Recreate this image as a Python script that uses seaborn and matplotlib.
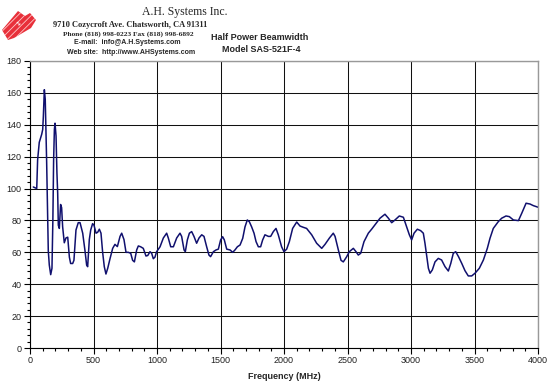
import matplotlib
matplotlib.use("Agg")
import matplotlib.pyplot as plt
import matplotlib.patches as mpatches
import seaborn as sns
import pandas as pd
import numpy as np
from matplotlib.ticker import MultipleLocator

freq_mhz = [26, 53, 60, 73, 92, 100, 105, 113, 120, 131, 139, 144, 152, 163, 173, 180, 186, 192, 197,
            205, 212, 218, 223, 231, 241, 249, 257, 270, 283, 297, 310, 320, 336, 346, 362, 380, 394,
            415, 433, 446, 454, 467, 478, 493, 504, 520, 533, 546, 559, 572, 585, 598, 612, 630, 651,
            669, 688, 709, 722, 740, 756, 774, 793, 808, 822, 840, 853, 871, 892, 913, 927, 945, 958,
            971, 984, 997, 1024, 1050, 1076, 1089, 1108, 1129, 1155, 1181, 1194, 1213, 1223, 1239,
            1255, 1273, 1291, 1312, 1331, 1352, 1370, 1391, 1409, 1422, 1444, 1465, 1483, 1501, 1517,
            1530, 1549, 1575, 1596, 1614, 1633, 1654, 1675, 1693, 1711, 1727, 1745, 1764, 1780, 1798,
            1816, 1832, 1850, 1877, 1895, 1916, 1937, 1955, 1981, 2000, 2021, 2042, 2068, 2100, 2126,
            2152, 2178, 2218, 2257, 2297, 2323, 2358, 2388, 2402, 2428, 2449, 2467, 2494, 2514, 2546,
            2567, 2585, 2604, 2630, 2664, 2690, 2724, 2756, 2795, 2822, 2848, 2874, 2908, 2940, 2966,
            2987, 3005, 3024, 3050, 3076, 3097, 3110, 3124, 3137, 3150, 3168, 3189, 3215, 3241, 3268,
            3294, 3313, 3333, 3352, 3374, 3400, 3425, 3451, 3478, 3504, 3538, 3570, 3601, 3622, 3648,
            3687, 3714, 3748, 3774, 3806, 3846, 3872, 3906, 3937, 3963, 4000]
beamwidth_deg = [101, 100, 118, 129, 134, 137, 145, 162, 156, 117, 82, 61, 52, 46, 50, 80, 118, 137, 141,
                 133, 110, 97, 77, 75, 90, 88, 76, 66, 69, 69.5, 57, 53, 53, 55, 74, 78.6, 78.6,
                 72, 61, 52, 51, 68, 74, 78, 77, 72, 72.6, 74.5, 72, 60, 51, 46.4, 50, 56, 62.5,
                 65, 63.6, 70, 72, 68, 60, 60, 59.4, 55, 54, 61.5, 64, 63.5, 62.5, 57.7, 58, 60.4, 59.4,
                 56, 57, 60.4, 63.5, 69, 72, 69, 63.5, 63.5, 69, 72, 70, 61.5, 60.4, 67.8,
                 72, 73, 70, 65.7, 69, 71, 70, 63.5, 58.3, 57.3, 60.4, 61.5, 62, 67.8, 69.8,
                 67.8, 62, 61.5, 60, 61.5, 63.5, 64.6, 68.8, 76, 80.3, 79.2, 76, 72, 66.7, 63.5,
                 63.5, 67.8, 71, 70, 70, 73, 75, 71, 63.5, 60.4, 62, 66.7, 75, 79, 76.5,
                 75.7, 75, 71, 65.7, 62.5, 65, 69, 72, 70, 61.5, 55, 54, 57.3, 60.4, 62.5,
                 60.4, 58.3, 59.4, 66.7, 72, 74.5, 78, 81.4, 83.9, 81.4, 78.6, 80.3, 82.8, 82, 76,
                 71, 67.8, 72, 74.5, 73.6, 72, 65.7, 57.3, 50, 46.9, 49, 54, 56.2, 55.2, 51,
                 48.3, 53, 59.4, 60.4, 57.3, 53, 48.5, 45.2, 45.2, 46.9, 50, 55.2, 62.5, 68.8, 75,
                 79.2, 81.4, 82.8, 82.4, 80.3, 79.9, 84.5, 90.8, 90.3, 89.3, 88.3]
x_ticks = [0, 500, 1000, 1500, 2000, 2500, 3000, 3500, 4000]
y_ticks = [0, 20, 40, 60, 80, 100, 120, 140, 160, 180]

df = pd.DataFrame({"Frequency (MHz)": freq_mhz, "Beamwidth": beamwidth_deg})

sns.set_theme(style="white")
plt.rcParams["font.family"] = ["Liberation Sans", "DejaVu Sans"]
plt.rcParams["hatch.linewidth"] = 0.6

fig = plt.figure(figsize=(5.5, 3.91), dpi=100)
ax = fig.add_axes([30 / 550, 1 - 348 / 391, 508 / 550, 287 / 391])

sns.lineplot(data=df, x="Frequency (MHz)", y="Beamwidth", ax=ax, color="#10106e",
             linewidth=1.1, estimator=None, sort=False)

ax.set_xlim(0, 4000)
ax.set_ylim(0, 180)
ax.set_xticks(x_ticks)
ax.set_yticks(y_ticks)
ax.xaxis.set_minor_locator(MultipleLocator(100))
ax.yaxis.set_minor_locator(MultipleLocator(4))
ax.tick_params(axis="both", which="major", direction="out", length=4, width=0.8,
               color="black", labelsize=6.5, labelcolor="#222222", pad=2,
               bottom=True, left=True)
ax.tick_params(axis="both", which="minor", direction="out", length=2, width=0.8,
               color="black", bottom=True, left=True)
ax.grid(True, which="major", color="#111111", linewidth=0.75)
ax.set_axisbelow(True)
for s in ["top", "right"]:
    ax.spines[s].set_color("#999999")
    ax.spines[s].set_linewidth(1)
for s in ["left", "bottom"]:
    ax.spines[s].set_color("black")
    ax.spines[s].set_linewidth(0.8)
ax.set_xlabel("Frequency (MHz)", fontsize=6.5, fontweight="bold", labelpad=5)
ax.set_ylabel("")

# Header texts
fig.text(185 / 550, 1 - 12 / 391, "A.H. Systems Inc.", ha="center", va="center",
         family="Liberation Serif", fontsize=8.5)
fig.text(130 / 550, 1 - 25 / 391, "9710 Cozycroft Ave. Chatsworth, CA 91311", ha="center", va="center",
         family="Liberation Serif", fontsize=6, fontweight="bold")
fig.text(128 / 550, 1 - 34 / 391, "Phone (818) 998-0223 Fax (818) 998-6892", ha="center", va="center",
         family="Liberation Serif", fontsize=5.3, fontweight="bold")
fig.text(127 / 550, 1 - 43 / 391, "E-mail:  info@A.H.Systems.com", ha="center", va="center",
         fontsize=5, fontweight="bold")
fig.text(131 / 550, 1 - 52 / 391, "Web site:  http://www.AHSystems.com", ha="center", va="center",
         fontsize=5, fontweight="bold")
fig.text(260 / 550, 1 - 37 / 391, "Half Power Beamwidth", ha="center", va="center",
         fontsize=6.5, fontweight="bold")
fig.text(261 / 550, 1 - 50 / 391, "Model SAS-521F-4", ha="center", va="center",
         fontsize=6.5, fontweight="bold")

# Logo (decorative)
def P(x, y):
    return [x / 550, 1 - y / 391]
logo = mpatches.Polygon([P(2, 30), P(18, 11), P(25, 16), P(30, 13), P(36, 20), P(31, 28),
                         P(14, 38), P(8, 40)],
                        closed=True, transform=fig.transFigure, facecolor="#e8303a",
                        edgecolor="#ffc8c8", linewidth=0, hatch="/////")
fig.patches.append(logo)
fig.text(P(19, 24)[0], P(19, 24)[1], "1", ha="center", va="center", fontsize=4.5,
         color="white", rotation=40, fontweight="bold")

fig.savefig("out.png", dpi=100)
